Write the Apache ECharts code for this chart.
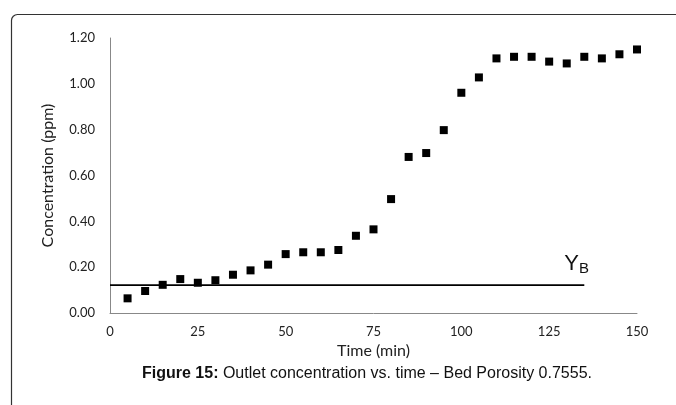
<!DOCTYPE html>
<html>
<head>
<meta charset="utf-8">
<script src="https://cdn.jsdelivr.net/npm/echarts@6/dist/echarts.min.js"></script>
<style>html,body{margin:0;padding:0;background:#fff}#c{width:676px;height:405px}</style>
</head>
<body>
<div id="c"></div>
<script>
var times = [5,10,15,20,25,30,35,40,45,50,55,60,65,70,75,80,85,90,95,100,105,110,115,120,125,130,135,140,145,150];
var concentration = [0.064,0.096,0.123,0.148,0.132,0.143,0.167,0.186,0.211,0.257,0.265,0.265,0.275,0.337,0.365,0.497,0.681,0.698,0.798,0.961,1.028,1.111,1.118,1.118,1.097,1.089,1.118,1.111,1.129,1.150];
var ybTimes = [0, 135];
var ybValue = 0.122;
var xTicks = [0,25,50,75,100,125,150];
var yTicks = [0,0.2,0.4,0.6,0.8,1.0,1.2];

var chart = echarts.init(document.getElementById('c'));
var tickFont = 'Lato, "Open Sans", sans-serif';
var arial = '"Liberation Sans", Arial, sans-serif';
chart.setOption({
  animation: false,
  graphic: [{
    type: 'rect', left: 9, top: 12,
    shape: {width: 700, height: 420, r: [6,0,0,0]},
    style: {fill: 'none', stroke: '#333', lineWidth: 1.2}
  }, {
    type: 'text', left: 142, top: 366,
    style: {
      rich: {
        b: {fontFamily: arial, fontWeight: 'bold', fontSize: 16, fill: '#111'},
        n: {fontFamily: arial, fontSize: 16, fill: '#111'}
      },
      text: '{b|Figure 15:}{n| Outlet concentration vs. time \u2013 Bed Porosity 0.7555.}'
    }
  }],
  grid: {left: 110, right: 39, top: 38, bottom: 92},
  xAxis: {
    type: 'value', min: 0, max: 150, interval: 25,
    name: 'Time (min)', nameLocation: 'middle', nameGap: 25,
    nameTextStyle: {fontFamily: tickFont, fontSize: 16, color: '#222'},
    axisLine: {lineStyle: {color: '#888', width: 1}},
    axisTick: {show: false},
    splitLine: {show: false},
    axisLabel: {fontFamily: tickFont, fontSize: 13, color: '#222', margin: 12,
      formatter: function(v){ return xTicks.indexOf(v) >= 0 ? String(v) : ''; }}
  },
  yAxis: {
    type: 'value', min: 0, max: 1.2, interval: 0.2,
    name: 'Concentration (ppm)', nameLocation: 'middle', nameGap: 54,
    nameTextStyle: {fontFamily: tickFont, fontSize: 16, color: '#222'},
    axisLine: {show: true, lineStyle: {color: '#888', width: 1}},
    axisTick: {show: false},
    splitLine: {show: false},
    axisLabel: {fontFamily: tickFont, fontSize: 13, color: '#222', margin: 15,
      formatter: function(v){ return yTicks.some(function(t){return Math.abs(t-v)<1e-9;}) ? v.toFixed(2) : ''; }}
  },
  series: [{
    type: 'scatter',
    symbol: 'rect', symbolSize: 8,
    itemStyle: {color: '#000', opacity: 1},
    data: times.map(function(t, i){ return [t, concentration[i]]; })
  }, {
    type: 'line',
    symbol: 'none',
    lineStyle: {color: '#000', width: 1.8},
    data: ybTimes.map(function(t){ return [t, ybValue]; }),
    endLabel: {
      show: true, distance: 0, offset: [-20, -21],
      rich: {
        y: {fontFamily: arial, fontSize: 22, color: '#111'},
        s: {fontFamily: arial, fontSize: 15, color: '#111', padding: [9,0,0,0]}
      },
      formatter: '{y|Y}{s|B}'
    }
  }]
});
</script>
</body>
</html>
